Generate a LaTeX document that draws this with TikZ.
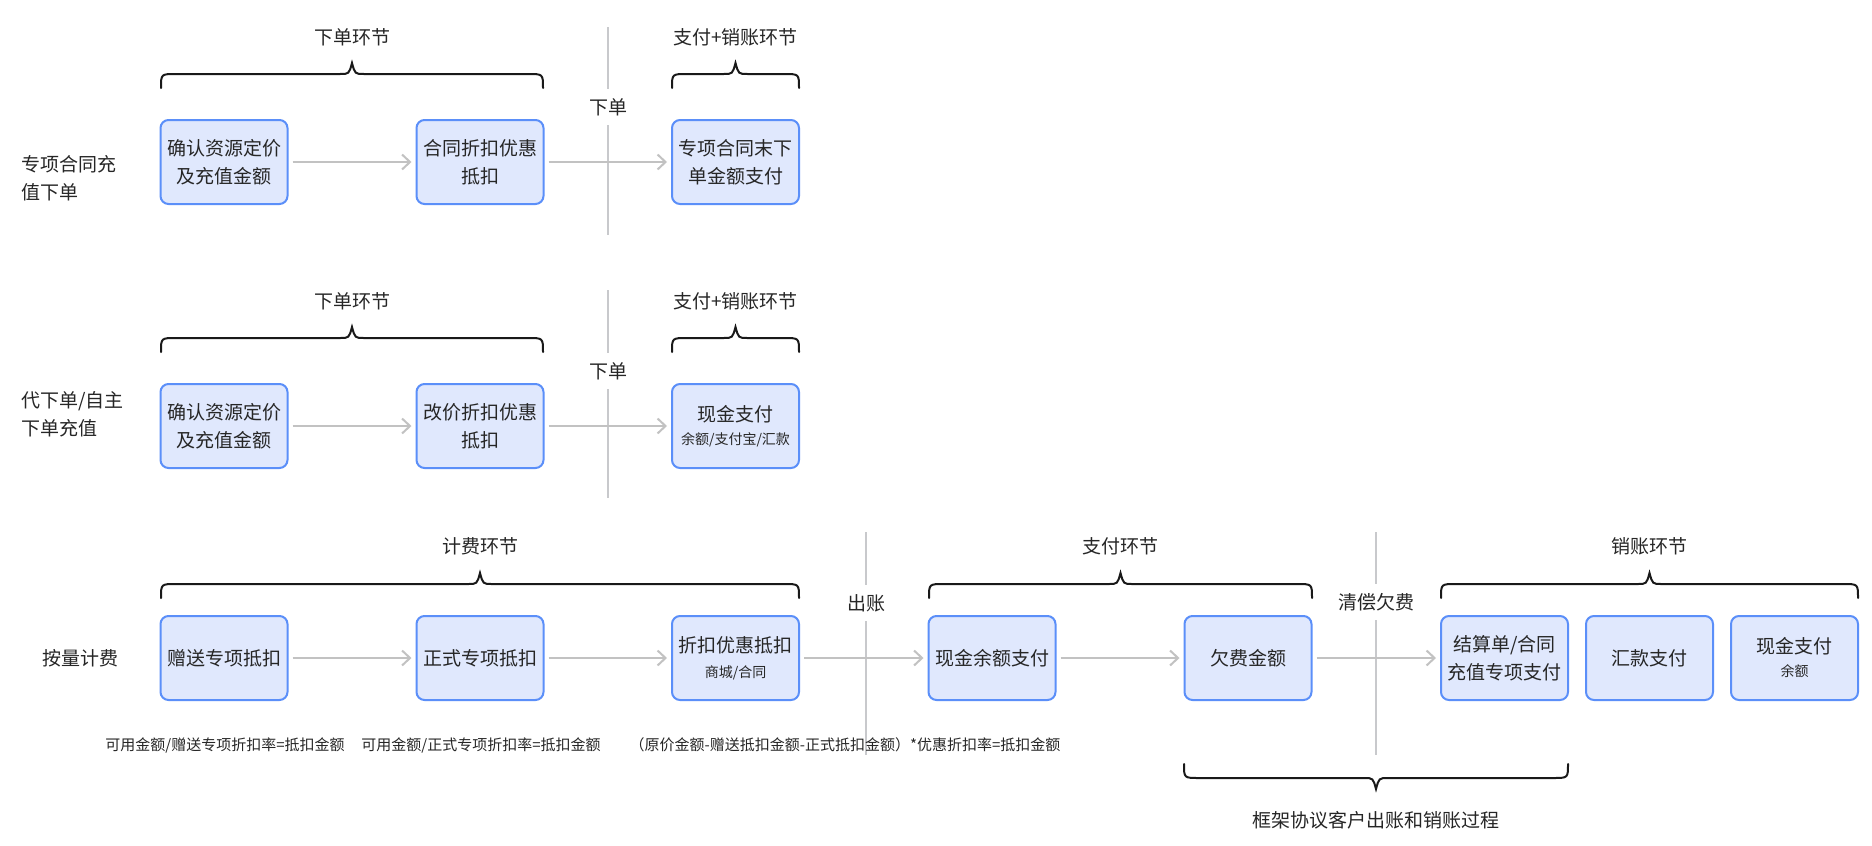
\documentclass[tikz,border=0pt]{standalone}
\usepackage{fontspec}
\setmainfont{Noto Sans CJK SC}
\usetikzlibrary{arrows.meta}
\definecolor{boxfill}{HTML}{E0E8FD}
\definecolor{boxdraw}{HTML}{5B8FF9}
\definecolor{arrowgray}{HTML}{C2C2C2}
\definecolor{linegray}{HTML}{C8C9CC}
\definecolor{txt}{HTML}{262626}
\newcommand\subtxt{\fontsize{14}{20}\selectfont}
\newcommand\myTopBrace[3]{%
\draw[brc] (#1,#3) .. controls (#1,{#3-14}) .. ({#1+15},{#3-14})
 -- ({(#1+#2)/2-12},{#3-14}) .. controls ({(#1+#2)/2-3},{#3-14}) .. ({(#1+#2)/2},{#3-25})
 .. controls ({(#1+#2)/2+3},{#3-14}) .. ({(#1+#2)/2+12},{#3-14})
 -- ({#2-15},{#3-14}) .. controls (#2,{#3-14}) .. (#2,#3);}
\newcommand\myBotBrace[3]{%
\draw[brc] (#1,#3) .. controls (#1,{#3+14}) .. ({#1+15},{#3+14})
 -- ({(#1+#2)/2-12},{#3+14}) .. controls ({(#1+#2)/2-3},{#3+14}) .. ({(#1+#2)/2},{#3+25})
 .. controls ({(#1+#2)/2+3},{#3+14}) .. ({(#1+#2)/2+12},{#3+14})
 -- ({#2-15},{#3+14}) .. controls (#2,{#3+14}) .. (#2,#3);}
\tikzset{
 box/.style={draw=boxdraw, fill=boxfill, line width=2pt, rounded corners=8pt,
   minimum width=127pt, minimum height=84pt, align=center, inner sep=0pt,
   text=txt, font=\fontsize{19}{28}\selectfont},
 flow/.style={draw=arrowgray, line width=2pt, -{Straight Barb[length=8pt,width=15pt]},
   shorten >=4pt, shorten <=4pt},
 vline/.style={draw=linegray, line width=2pt},
 brc/.style={draw=black!90, line width=2pt, line cap=round},
 lbl/.style={text=txt, font=\fontsize{19}{28}\selectfont, inner sep=0pt},
 cut/.style={lbl, minimum height=36pt},
 note/.style={text=txt, font=\fontsize{15}{18}\selectfont, inner sep=0pt}
}
\begin{document}
\begin{tikzpicture}[x=1pt,y=-1pt]
\fill[white] (0,0) rectangle (1872,846);
\useasboundingbox (0,0) rectangle (1872,846);

% ---------- row 1 ----------
\node[lbl, align=left, anchor=west] (r1) at (21,178) {专项合同充\\值下单};
\node[box] (a1) at (224,162) {确认资源定价\\及充值金额};
\node[box] (a2) at (480,162) {合同折扣优惠\\抵扣};
\node[box] (a3) at (735.5,162) {专项合同末下\\单金额支付};
\myTopBrace{161}{543}{88}
\myTopBrace{672}{799}{88}
\node[lbl] (h11) at (352,37) {下单环节};
\node[lbl] (h12) at (735.5,37) {支付+销账环节};
\node[cut] (c1) at (608,107) {下单};
\coordinate (c1t) at (608,27);
\coordinate (c1b) at (608,235);
\draw[vline] (c1t) -- (c1.north);
\draw[vline] (c1.south) -- (c1b);
\draw[flow] (a1) -- (a2);
\draw[flow] (a2) -- (a3);

% ---------- row 2 ----------
\node[lbl, align=left, anchor=west] (r2) at (21,414) {代下单/自主\\下单充值};
\node[box] (b1) at (224,426) {确认资源定价\\及充值金额};
\node[box] (b2) at (480,426) {改价折扣优惠\\抵扣};
\node[box] (b3) at (735.5,426) {现金支付\\[-5pt]{\subtxt 余额/支付宝/汇款}};
\myTopBrace{161}{543}{352}
\myTopBrace{672}{799}{352}
\node[lbl] (h21) at (352,301) {下单环节};
\node[lbl] (h22) at (735.5,301) {支付+销账环节};
\node[cut] (c2) at (608,371) {下单};
\coordinate (c2t) at (608,290);
\coordinate (c2b) at (608,498);
\draw[vline] (c2t) -- (c2.north);
\draw[vline] (c2.south) -- (c2b);
\draw[flow] (b1) -- (b2);
\draw[flow] (b2) -- (b3);

% ---------- row 3 ----------
\node[lbl, anchor=west] (r3) at (42,658) {按量计费};
\node[box] (d1) at (224,658) {赠送专项抵扣};
\node[box] (d2) at (480,658) {正式专项抵扣};
\node[box] (d3) at (735.5,658) {折扣优惠抵扣\\[-3pt]{\subtxt 商城/合同}};
\node[box] (d4) at (992,658) {现金余额支付};
\node[box] (d5) at (1248,658) {欠费金额};
\node[box] (d6) at (1504.5,658) {结算单/合同\\充值专项支付};
\node[box] (d7) at (1649.5,658) {汇款支付};
\node[box] (d8) at (1794.5,658) {现金支付\\[-5pt]{\subtxt 余额}};
\myTopBrace{161}{799}{598}
\myTopBrace{929}{1312}{598}
\myTopBrace{1441}{1858}{598}
\myBotBrace{1184}{1568}{764}
\node[lbl] (h31) at (480,546) {计费环节};
\node[lbl] (h32) at (1120.5,546) {支付环节};
\node[lbl] (h33) at (1649.5,546) {销账环节};
\node[lbl] (h34) at (1376,820) {框架协议客户出账和销账过程};
\node[cut] (c3) at (866,603) {出账};
\coordinate (c3t) at (866,532);
\coordinate (c3b) at (866,755);
\draw[vline] (c3t) -- (c3.north);
\draw[vline] (c3.south) -- (c3b);
\node[cut] (c4) at (1376,602) {清偿欠费};
\coordinate (c4t) at (1376,532);
\coordinate (c4b) at (1376,755);
\draw[vline] (c4t) -- (c4.north);
\draw[vline] (c4.south) -- (c4b);
\draw[flow] (d1) -- (d2);
\draw[flow] (d2) -- (d3);
\draw[flow] (d3) -- (d4);
\draw[flow] (d4) -- (d5);
\draw[flow] (d5) -- (d6);
\node[note] (n1) at (225,745) {可用金额/赠送专项折扣率=抵扣金额};
\node[note] (n2) at (481,745) {可用金额/正式专项折扣率=抵扣金额};
\node[note] (n3) at (845,745) {（原价金额-赠送抵扣金额-正式抵扣金额）*优惠折扣率=抵扣金额};
\end{tikzpicture}
\end{document}
